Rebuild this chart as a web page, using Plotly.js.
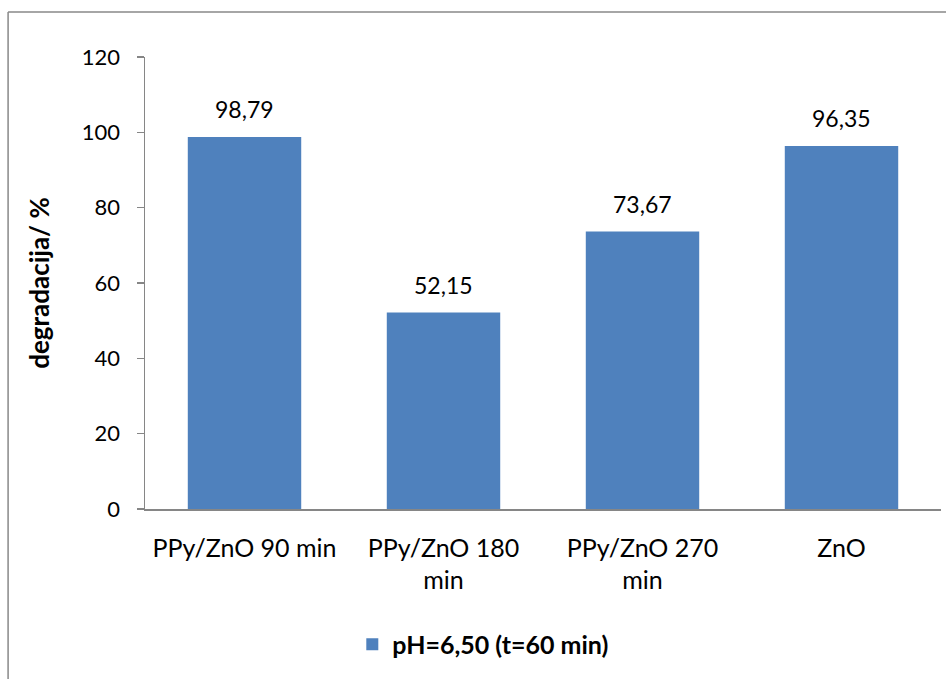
<!DOCTYPE html>
<html>
<head>
<meta charset="utf-8">
<script src="https://cdn.plot.ly/plotly-3.0.1.min.js"></script>
<style>
  html, body { margin: 0; padding: 0; background: #fff; }
  #chart { width: 946px; height: 679px; }
</style>
</head>
<body>
<div id="chart"></div>
<script>
const categories = ["PPy/ZnO 90 min", "PPy/ZnO 180 min", "PPy/ZnO 270 min", "ZnO"];
const tickLabels = ["PPy/ZnO 90 min", "PPy/ZnO 180<br>min", "PPy/ZnO 270<br>min", "ZnO"];
const values = [98.79, 52.15, 73.67, 96.35];
const seriesName = "pH=6,50 (t=60 min)";
const yTicks = [0, 20, 40, 60, 80, 100, 120];

const FONT = "Lato, 'Open Sans', sans-serif";

const trace = {
  type: "bar",
  x: categories,
  y: values,
  name: seriesName,
  marker: { color: "#4F81BD" },
  hoverinfo: "none",
  showlegend: true
};

const annotations = categories.map((c, i) => ({
  x: c, y: values[i], xref: "x", yref: "y",
  text: values[i].toFixed(2).replace(".", ","),
  showarrow: false, yanchor: "bottom", yshift: 12,
  font: { family: FONT, size: 23, color: "#000" }
}));

const layout = {
  width: 946, height: 679,
  margin: { l: 145, r: 5, t: 57, b: 170, pad: 0 },
  paper_bgcolor: "#fff", plot_bgcolor: "#fff",
  separators: ",.",
  bargap: 0.43,
  font: { family: FONT, size: 22, color: "#000" },
  xaxis: {
    type: "category",
    tickvals: categories,
    ticktext: tickLabels,
    showline: true, linecolor: "#868686", linewidth: 1.5,
    ticks: "", showgrid: false, zeroline: false,
    range: [-0.5, 3.5],
    tickfont: { family: FONT, size: 25, color: "#000" },
    ticklabelstandoff: 16
  },
  yaxis: {
    range: [0, 120],
    tickvals: yTicks,
    showline: true, linecolor: "#868686", linewidth: 1.5,
    ticks: "outside", ticklen: 7, tickcolor: "#868686", tickwidth: 1.5,
    showgrid: false, zeroline: false,
    tickfont: { family: FONT, size: 22, color: "#000" },
    ticklabelstandoff: 12,
    title: { text: "degradacija/ %", font: { family: FONT, size: 26, color: "#000", weight: "bold" }, standoff: 24 }
  },
  legend: {
    orientation: "h", x: 0.425, xanchor: "center", y: -0.30, yanchor: "middle",
    font: { family: FONT, size: 25, color: "#000", weight: "bold" },
    itemwidth: 30
  },
  annotations: annotations,
  shapes: [
    { type: "line", xref: "paper", yref: "paper", x0: -0.172, x1: -0.172, y0: 1.0996, y1: -0.5, line: { color: "#888", width: 1.5 } },
    { type: "line", xref: "paper", yref: "paper", x0: -0.172, x1: 1.01, y0: 1.0996, y1: 1.0996, line: { color: "#888", width: 1.5 } }
  ]
};

Plotly.newPlot("chart", [trace], layout, { displayModeBar: false, staticPlot: true });
</script>
</body>
</html>
